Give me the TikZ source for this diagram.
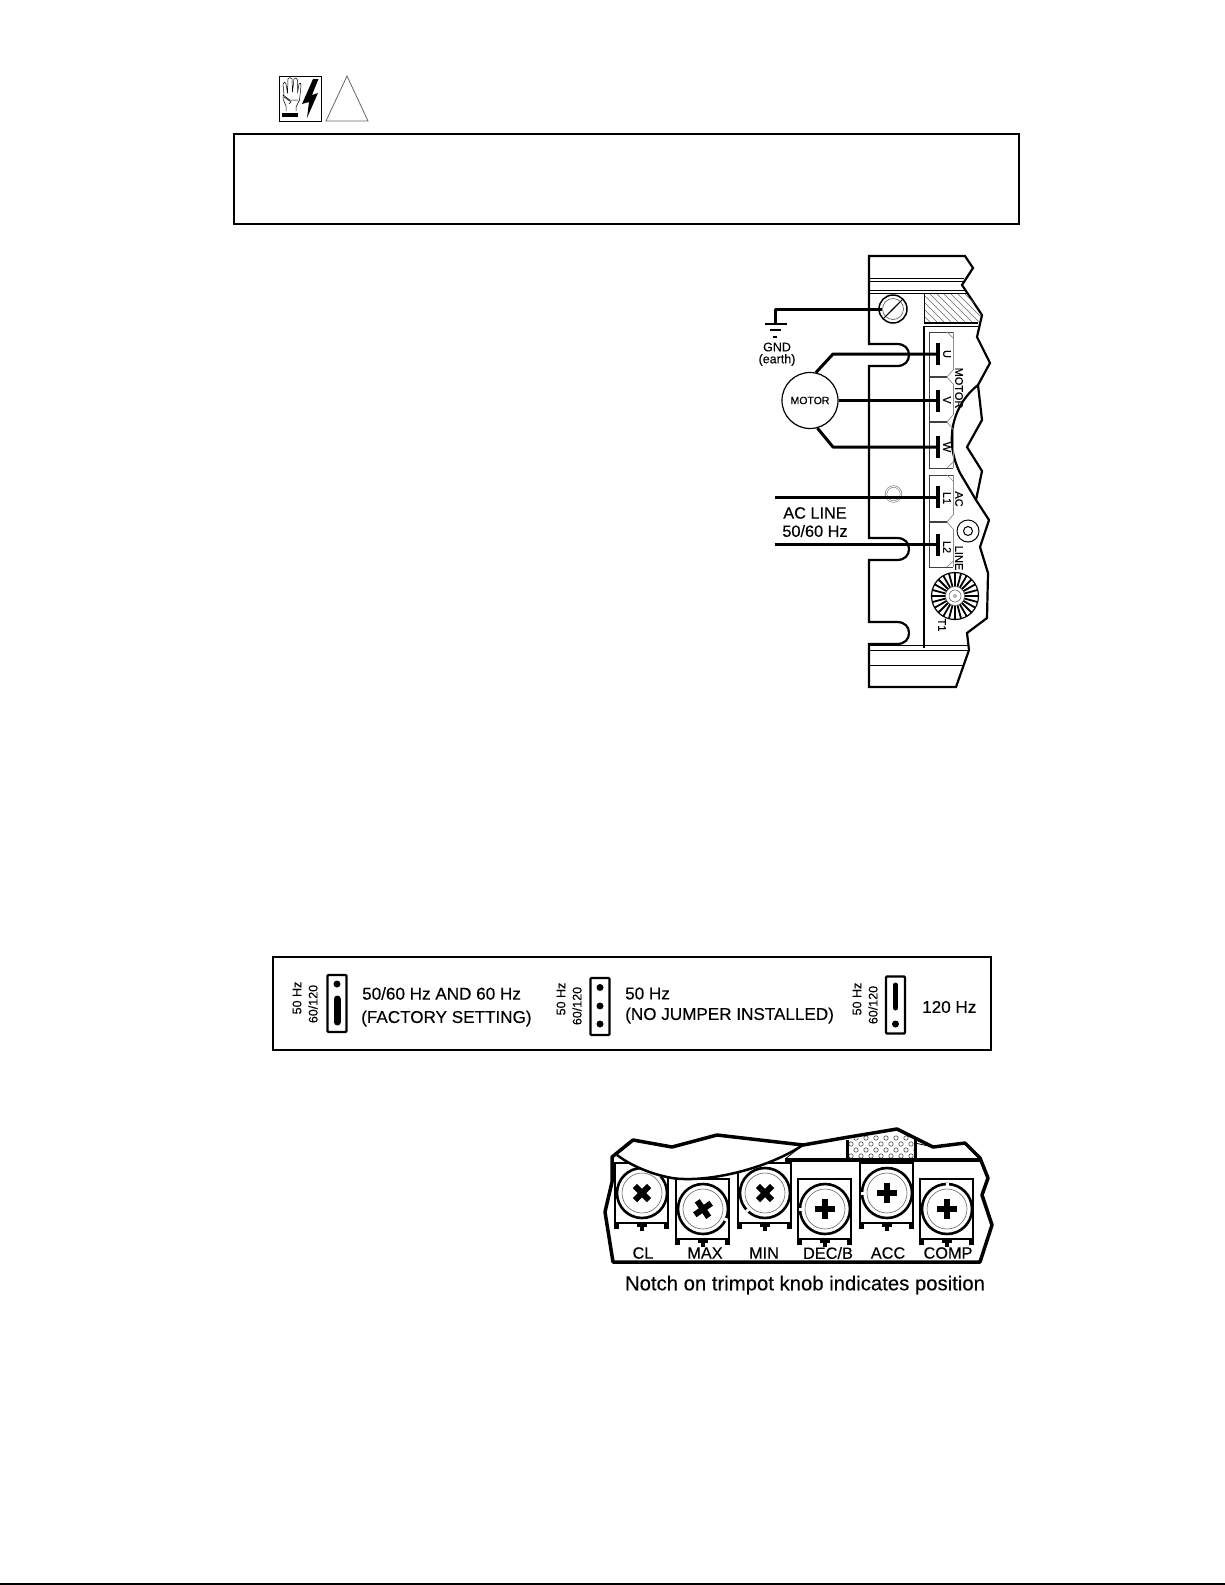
\documentclass[tikz,border=0pt]{standalone}
\usepackage{fontspec}
\setmainfont{Liberation Sans}[FakeBold=0.3]
\newcommand{\fs}[1]{\fontsize{#1}{#1}\selectfont}
\tikzset{
  outline/.style={line width=2.2pt,line join=miter},
  wire/.style={line width=3pt},
  thinln/.style={line width=0.5pt},
  lbl/.style={inner sep=0pt,font=\fs{12.5}},
  termlbl/.style={inner sep=0pt,font=\fs{11},rotate=-90},
  jumperlbl/.style={inner sep=0pt,font=\fs{12.5},rotate=90},
  jumpertxt/.style={inner sep=0pt,anchor=west,font=\fs{17.1}},
  potlbl/.style={inner sep=0pt,font=\fs{16.3}},
  jumperbox/.style={draw,line width=2.2pt,rounded corners=1pt,minimum width=19pt,inner sep=0pt},
  pin/.style={fill,circle,inner sep=0pt,minimum size=7pt},
  contact/.style={fill,inner sep=0pt,minimum width=3.5pt,minimum height=22pt}
}
\begin{document}
\begin{tikzpicture}[x=1pt,y=-1pt]
\useasboundingbox (0,0) rectangle (1225,1585);

% warning icons and empty box
\node[draw,line width=1pt,minimum width=42pt,minimum height=45pt,inner sep=0pt] (Icon) at (300,98.5) {};
\fill (313,79) -- (318.5,79) -- (312,95) -- (318,93) -- (307,118) -- (309,102) -- (302,104) -- cycle;
\draw[thinln,line join=round] (284,95) -- (283,84) -- (284.5,82) -- (286,84) -- (287.5,93) -- (288,79) -- (290,77.5) -- (292,79) -- (292.5,92) -- (294,79) -- (296,78) -- (297.5,80) -- (297.5,93) -- (299,84) -- (300.5,83) -- (301,86) -- (299.5,100) -- (296,107) -- (296,111)
  (286,111) -- (286,106) -- (283,99) -- (283,95) -- (290,100) -- (298,100)
  (284,97) -- (291,102) -- (289,104);
\fill (282,113) rectangle (298,117);
\draw[black!60,line width=0.8pt] (347,76) -- (326,121) -- (368,121) -- cycle;
\node[draw,line width=2.2pt,minimum width=785pt,minimum height=90pt,inner sep=0pt] (Warn) at (626.5,179) {};
\draw[line width=2pt] (0,1584) -- (1225,1584);

% drive body
\draw[outline] (869,344) -- (869,256) -- (965,256) -- (973,268) -- (962,285) -- (982,315) -- (977,337) -- (990,363) -- (978,385)
  -- (982,420) -- (967,447) -- (982,471) -- (976,500) -- (989,520) -- (980,547) -- (988,573) -- (987,618) -- (967,633) -- (969,650) -- (956,687) -- (869,687) -- (869,644)
  -- (897,644) .. controls (905,644) and (909,639) .. (909,633) .. controls (909,627) and (905,622) .. (897,622) -- (869,622) -- (869,560)
  -- (897,560) .. controls (905,560) and (909,555) .. (909,549) .. controls (909,543) and (905,538) .. (897,538) -- (869,538) -- (869,366)
  -- (897,366) .. controls (905,366) and (909,361) .. (909,355) .. controls (909,349) and (905,344) .. (897,344) -- cycle;
\draw[outline] (978,385) .. controls (956,402) and (942,436) .. (960,473) -- (976,500);
\foreach \ly in {278,281,290,293}
  \draw[line width=1pt] (869,\ly) -- ({\ly<285 ? 964 : 966},\ly);
\foreach \ly/\lx in {645/968,650/969,665/964}
  \draw[line width=1pt] (869,\ly) -- (\lx,\ly);
\draw[line width=1.8pt] (924,326) -- (924,648);

% hatched block
\begin{scope}
\clip (924,293) -- (967,293) -- (982,315) -- (978,323) -- (924,323) -- cycle;
\foreach \hx in {880,887,...,980}
  \draw[black!60,line width=0.5pt] (\hx,293) -- (\hx+30,323);
\end{scope}
\draw[line width=1pt] (924,323) -- (924,293) (924,293) -- (967,293);
\draw[line width=2pt] (924,323) -- (978,323);
\draw[line width=1pt] (924,326) -- (978,326);

% terminal blocks
\foreach \ta/\tb/\tc in {332/377/468,475/522/567}{
  \draw[black!75,line width=1pt] (953,\ta) -- (929,\ta) -- (929,\tc) -- (953,\tc);
  \draw[black!45,line width=0.7pt] (947,\ta) -- (953,\ta+6) (947,\tc) -- (953,\tc-6);
}
\foreach \ty in {377,422,522}{
  \draw[black!75,line width=1.5pt] (929,\ty) -- (947,\ty);
  \draw[black!45,line width=0.7pt] (953,\ty-7) -- (947,\ty) -- (953,\ty+7);
}
\draw[black!45,line width=0.7pt] (953,332) -- (953,370) (953,384) -- (953,415) (953,429) -- (953,468) (953,475) -- (953,515) (953,529) -- (953,567);
\node[contact] (TU) at (938,354) {};
\node[contact] (TV) at (938,400.5) {};
\node[contact] (TW) at (938,447) {};
\node[contact] (TLa) at (938,497) {};
\node[contact] (TLb) at (938,544.5) {};
\node[termlbl] (LU) at (947,354) {U};
\node[termlbl] (LV) at (947,400) {V};
\node[termlbl] (LW) at (947,447) {W};
\node[termlbl] (LLa) at (947,498) {L1};
\node[termlbl] (LLb) at (947,547) {L2};
\node[termlbl] (LMot) at (959,388) {MOTOR};
\node[termlbl] (LAc) at (959,499) {AC};
\node[termlbl] (LLine) at (959,558) {LINE};
\node[termlbl] (LT) at (942,625) {T1};

% screws
\node[draw,circle,line width=1.5pt,minimum size=28pt,inner sep=0pt] (GndOut) at (893,309) {};
\node[draw=black!60,circle,line width=0.7pt,minimum size=21pt,inner sep=0pt] (GndScrew) at (893,309) {};
\foreach \sd in {-4,0,4}
  \draw[line width=0.8pt] ([xshift=\sd pt,yshift=\sd pt]GndScrew.center) +(-6,6) -- +(6,-6);
\node[draw=black!55,double=white,double distance=1pt,circle,line width=0.6pt,minimum size=15pt,inner sep=0pt] (Hole) at (893.5,494) {};
\node[draw,circle,line width=1pt,minimum size=22pt,inner sep=0pt] (ScrewR) at (968,531) {};
\node[draw,circle,line width=1pt,minimum size=9pt,inner sep=0pt] (ScrewRi) at (968,531) {};

% T1 wheel
\node[draw,circle,line width=1.2pt,minimum size=47pt,inner sep=0pt] (Wheel) at (955,596) {};
\foreach \wa in {0,15,...,345}
  \draw[line width=1.8pt] (Wheel.center) ++(\wa:9) -- ++(\wa:14.5);
\node[draw=black!60,fill=white,circle,line width=0.6pt,minimum size=19pt,inner sep=0pt] (WheelA) at (955,596) {};
\node[draw=black!60,circle,line width=0.6pt,minimum size=12pt,inner sep=0pt] (WheelB) at (955,596) {};
\node[draw=black!60,circle,line width=0.6pt,minimum size=3pt,inner sep=0pt] (WheelC) at (955,596) {};

% motor and wires
\node[draw,circle,line width=1.2pt,fill=white,minimum size=56pt,inner sep=0pt,font=\fs{10.5}] (Mot) at (810,400.5) {MOTOR};
\coordinate (BU) at (833,354);
\coordinate (BW) at (833,447);
\coordinate (ACa) at (775,497);
\coordinate (ACb) at (775,544.5);
\coordinate (GndTop) at (775,309);
\coordinate (GndBot) at (775,324);
\draw[wire,line join=round] (Mot.78) -- (BU) -- (TU);
\draw[wire] (Mot) -- (TV);
\draw[wire,line join=round] (Mot.-75) -- (BW) -- (TW);
\draw[wire] (ACa) -- (TLa);
\draw[wire] (ACb) -- (TLb);
\draw[wire,line join=round] (GndBot) -- (GndTop) -- (GndScrew.west);
\draw[line width=2pt] (765,324) -- (787,324);
\draw[line width=2pt] (770,330) -- (781,330);
\draw[line width=2pt] (773,337) -- (777,337);
\node[lbl] (Gnd) at (777,347) {GND};
\node[lbl] (Earth) at (777,360) {(earth)};
\node[lbl,font=\fs{16.3}] (AcLine) at (815,513) {AC LINE};
\node[lbl,font=\fs{16.3}] (AcHz) at (815,531) {50/60 Hz};

% jumper panel
\node[draw,line width=2.2pt,minimum width=718pt,minimum height=93pt,inner sep=0pt] (Panel) at (632,1003.5) {};
\node[jumperbox,minimum height=57pt] (JA) at (337,1003.5) {};
\node[pin] (JAa) at (337,984) {};
\draw[line width=7pt,line cap=round] (337,999) -- (337,1022);
\node[jumperlbl] (JAh) at (297,998) {50 Hz};
\node[jumperlbl] (JAn) at (313,1004) {60/120};
\node[jumpertxt] (JAt) at (362,993.5) {50/60 Hz AND 60 Hz};
\node[jumpertxt] (JAs) at (361,1018.5) {(FACTORY SETTING)};

\node[jumperbox,minimum height=57pt] (JB) at (600,1006.5) {};
\foreach \py in {987.5,1006,1024}
  \node[pin] at (600,\py) {};
\node[jumperlbl] (JBh) at (561,999) {50 Hz};
\node[jumperlbl] (JBn) at (577,1006) {60/120};
\node[jumpertxt] (JBt) at (625,993.5) {50 Hz};
\node[jumpertxt] (JBs) at (625,1015.5) {(NO JUMPER INSTALLED)};

\node[jumperbox,minimum height=57pt] (JC) at (895.5,1005) {};
\node[pin] (JCa) at (895.5,1024) {};
\draw[line width=5pt,line cap=round] (895.5,985) -- (895.5,1008);
\node[jumperlbl] (JCh) at (857,999) {50 Hz};
\node[jumperlbl] (JCn) at (873,1005) {60/120};
\node[jumpertxt] (JCt) at (922,1007) {120 Hz};

% trimpots
\foreach \cx/\cy/\crot/\nang/\ctxt/\lx in {642/1193/45/-45/CL/643,703/1209/35/25/MAX/705,765/1193/45/135/MIN/764,825/1209/0/180/DEC\slash B/828,887/1193/0/180/ACC/888,947/1209/0/270/COMP/948}{
  \draw[line width=1.4pt] (\cx-27,\cy+29) -- (\cx-27,\cy-30) -- (\cx+26,\cy-30) -- (\cx+26,\cy+29);
  \draw[line width=1.8pt] (\cx-27,\cy+30) -- (\cx+26,\cy+30);
  \fill (\cx-28,\cy+29) rectangle (\cx-23,\cy+36);
  \fill (\cx+22,\cy+29) rectangle (\cx+27,\cy+36);
  \fill (\cx-5,\cy+29) rectangle (\cx+5,\cy+34);
  \fill (\cx-2,\cy+29) rectangle (\cx+2,\cy+38);
  \draw[fill=white,line width=2.6pt] (\cx,\cy) circle (25);
  \draw[black!60,line width=0.6pt] (\cx,\cy) circle (20);
  \draw[white,line width=3pt] (\cx,\cy) ++(\nang:23.5) -- ++(\nang:3);
  \begin{scope}[shift={(\cx,\cy)},rotate=\crot]
    \draw[line width=6pt] (-10,0) -- (10,0) (0,-10) -- (0,10);
  \end{scope}
  \node[potlbl] at (\lx,1253) {\ctxt};
}

% trimpot outline
\fill[white] (612,1157) -- (633,1140) -- (672,1147) -- (717,1135) -- (760,1140) -- (803,1145) -- (785,1159) -- (775,1159)
  .. controls (745,1175) and (700,1182) .. (672,1178) .. controls (650,1174) and (630,1165) .. (617,1155) -- cycle;
\draw[line width=2.5pt] (617,1155) .. controls (630,1165) and (650,1174) .. (672,1178) .. controls (705,1183) and (765,1170) .. (803,1145);
\draw[line width=0.8pt] (803,1145) -- (785,1159);
\draw[line width=3.5pt] (785,1160) -- (981,1160);
\begin{scope}
\clip (847,1140) -- (897,1129) -- (915,1137) -- (915,1158) -- (847,1158) -- cycle;
\foreach \dy/\dx in {1138/856,1144/851,1150/856,1156/851}
  \foreach \dn in {0,1,...,6}
    \draw[black!70,line width=0.6pt] (\dx+\dn*10,\dy) circle (2.2);
\end{scope}
\draw[line width=3pt] (847,1140) -- (847,1160) (915,1137) -- (915,1160);
\draw[line width=0.8pt] (915,1143) -- (933,1147);
\draw[line width=3.5pt,line join=round] (612,1157) -- (633,1140) -- (672,1147) -- (717,1135) -- (760,1140) -- (803,1145) -- (843,1138) -- (897,1129) -- (933,1147) -- (965,1143) -- (980,1158)
  -- (988,1178) -- (982,1195) -- (992,1225) -- (980,1262) -- (613,1262) -- (605,1212) -- (612,1182) -- cycle;
\node[inner sep=0pt,font=\fs{20.3}] (Notch) at (805,1285) {Notch on trimpot knob indicates position};
\end{tikzpicture}
\end{document}
